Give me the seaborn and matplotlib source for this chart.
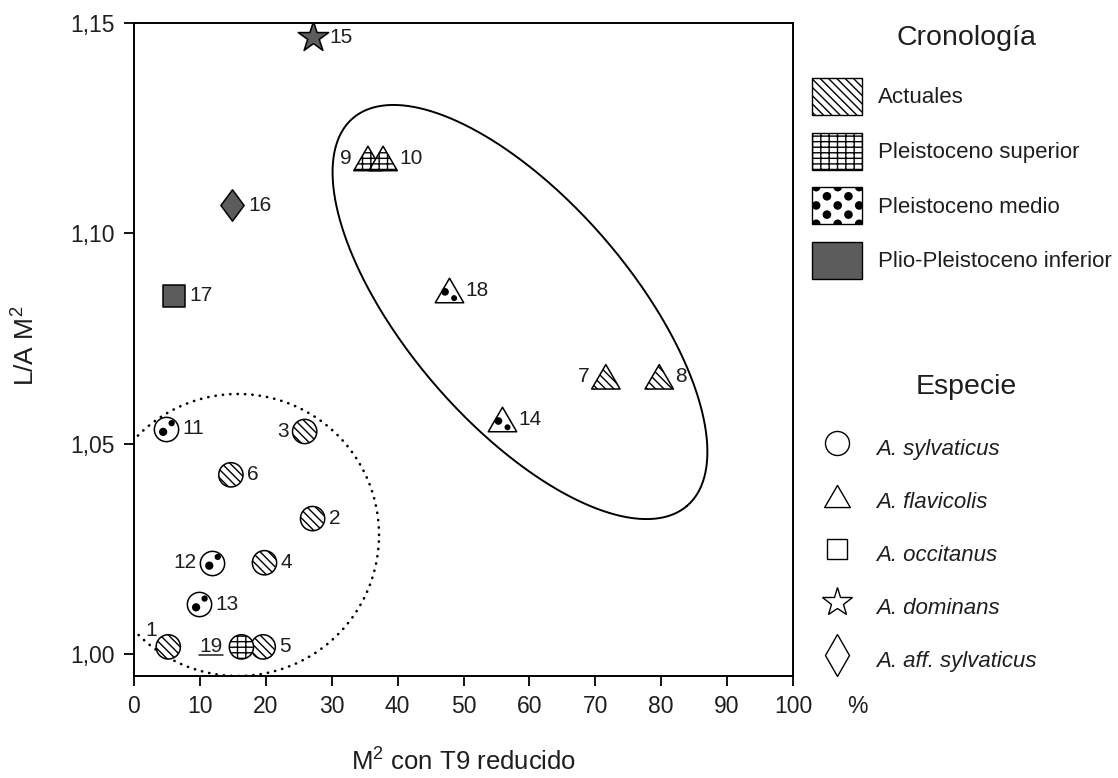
import numpy as np
import pandas as pd
import matplotlib
matplotlib.use("Agg")
import matplotlib.pyplot as plt
import seaborn as sns
from matplotlib.path import Path
from matplotlib.patches import Patch, Rectangle, Circle
from matplotlib.lines import Line2D
from matplotlib.legend_handler import HandlerBase
from matplotlib.transforms import ScaledTranslation

# ===============================
# Data
# ===============================
sample_id = list(range(1, 20))
m2_t9 = [5.2, 27.1, 25.9, 19.8, 19.6, 14.7, 71.6, 79.7, 35.5, 37.8,
         4.9, 11.9, 9.9, 55.9, 27.2, 14.9, 6.0, 47.8, 16.3]
la_m2 = [1.0017, 1.0322, 1.0529, 1.0217, 1.0017, 1.0426, 1.0659, 1.0659, 1.1178, 1.1178,
         1.0535, 1.0217, 1.0118, 1.0558, 1.1466, 1.1067, 1.0852, 1.0865, 1.0017]
species = ["syl", "syl", "syl", "syl", "syl", "syl", "fla", "fla", "fla", "fla",
           "syl", "syl", "syl", "fla", "dom", "aff", "occ", "fla", "syl"]
period = ["act", "act", "act", "act", "act", "act", "act", "act", "sup", "sup",
          "med", "med", "med", "med", "inf", "inf", "inf", "med", "sup"]

period_keys = ["act", "sup", "med", "inf"]
period_names = ["Actuales", "Pleistoceno superior", "Pleistoceno medio",
                "Plio-Pleistoceno inferior"]
species_keys = ["syl", "fla", "occ", "dom", "aff"]
species_names = ["A. sylvaticus", "A. flavicolis", "A. occitanus", "A. dominans",
                 "A. aff. sylvaticus"]

x_ticks = [0, 10, 20, 30, 40, 50, 60, 70, 80, 90, 100]
y_ticks = [1.00, 1.05, 1.10, 1.15]
y_tick_labels = ["1,00", "1,05", "1,10", "1,15"]

# group outlines (hand drawn in the original)
ell_center = (58.57, 1.0813)
ell_u = (25.37, -0.04605)
ell_v = (-12.85, -0.01738)
circ_center = (15.78, 1.0283)
circ_radius = (21.4, 0.03352)

# ===============================
# Styling
# ===============================
sns.set_theme(style="ticks")
plt.rcParams["font.family"] = ["Liberation Sans", "DejaVu Sans"]
plt.rcParams["mathtext.fontset"] = "custom"
plt.rcParams["mathtext.rm"] = "Liberation Sans"
plt.rcParams["hatch.linewidth"] = 1.0
plt.rcParams["hatch.color"] = "black"

DARK = "#5c5c5c"
INK = "#1e1e1e"


def closed(verts):
    verts = list(verts) + [verts[0]]
    codes = [Path.MOVETO] + [Path.LINETO] * (len(verts) - 2) + [Path.CLOSEPOLY]
    return Path(verts, codes)


TRI = closed([(-0.5, -0.43), (0.5, -0.43), (0.0, 0.43)])
DIAM = closed([(0.0, 0.5), (0.37, 0.0), (0.0, -0.5), (-0.37, 0.0)])

marker_of = {"syl": "o", "fla": TRI, "occ": "s", "dom": "*", "aff": DIAM}
size_of = {"syl": 306, "fla": 420, "occ": 272, "dom": 530, "aff": 510}
fill_of = {"act": "white", "sup": "white", "med": "white", "inf": DARK}
hatch_of = {"act": "\\\\\\\\", "sup": "---||", "med": None, "inf": None}
# black spots of the "Pleistoceno medio" pattern: (dx, dy, diameter) as marker fractions
spots_of = {"syl": [(-0.13, -0.12, 0.34), (0.22, 0.24, 0.26)],
            "fla": [(-0.14, -0.06, 0.27), (0.18, -0.28, 0.21)]}

df = pd.DataFrame({"id": sample_id, "x": m2_t9, "y": la_m2,
                   "sp": species, "per": period})

fig = plt.figure(figsize=(11.18, 7.78), dpi=100)
ax = fig.add_axes([134 / 1118, 1 - 676 / 778, 659 / 1118, 653 / 778])

# outlines
t = np.linspace(0, 2 * np.pi, 500)
ax.plot(ell_center[0] + ell_u[0] * np.cos(t) + ell_v[0] * np.sin(t),
        ell_center[1] + ell_u[1] * np.cos(t) + ell_v[1] * np.sin(t),
        color="black", lw=1.4, zorder=2)
ax.plot(circ_center[0] + circ_radius[0] * np.cos(t),
        circ_center[1] + circ_radius[1] * np.sin(t),
        color="black", lw=1.9, ls=(0, (0.1, 2.7)), dash_capstyle="round", zorder=2)

# points, one call per species / period so each gets its own pattern
for (sp, per), g in df.groupby(["sp", "per"], sort=False):
    sns.scatterplot(data=g, x="x", y="y", marker=marker_of[sp], s=size_of[sp],
                    color=fill_of[per], edgecolor="black", linewidth=1.1,
                    ax=ax, legend=False, zorder=3)
    if hatch_of[per]:
        ax.collections[-1].set_hatch(hatch_of[per])
    if per == "med":
        m = np.sqrt(size_of[sp])
        for dx, dy, d in spots_of[sp]:
            sns.scatterplot(data=g, x="x", y="y", marker="o", s=(d * m) ** 2,
                            color="black", edgecolor="none", linewidth=0,
                            ax=ax, legend=False, zorder=4)
            shift = ScaledTranslation(dx * m / 72, dy * m / 72, fig.dpi_scale_trans)
            ax.collections[-1].set_offset_transform(ax.transData + shift)

# number labels
label_side = {1: "ul", 3: "l", 7: "l", 9: "l", 12: "l", 19: "l"}
offsets = {"r": ((11.5, 0), "left"), "l": ((-11.5, 0), "right"),
           "ul": ((-12.5, 12), "center")}
txt19 = None
for i, x, y in zip(sample_id, m2_t9, la_m2):
    side = label_side.get(i, "r")
    off, ha = offsets[side]
    if i == 19:
        off = (-13.5, 0)
    tx = ax.annotate(str(i), (x, y), xytext=off, textcoords="offset points",
                     ha=ha, va="center", fontsize=15, color=INK, zorder=5)
    if i == 19:
        txt19 = tx

# axes
ax.set_xlim(0, 100)
ax.set_ylim(0.99478, 1.15)
ax.set_xticks(x_ticks)
ax.set_xticklabels([str(v) for v in x_ticks])
ax.set_yticks(y_ticks)
ax.set_yticklabels(y_tick_labels)
ax.tick_params(axis="both", direction="out", length=7.5, width=1.3, pad=6.5,
               labelsize=16.5, color="black", labelcolor=INK)
for s in ax.spines.values():
    s.set_linewidth(1.4)
    s.set_color("black")
ax.set_xlabel(r"M$^{2}$ con T9 reducido", fontsize=18.5, color=INK)
ax.set_ylabel(r"L/A M$^{2}$", fontsize=19, color=INK)
ax.xaxis.set_label_coords(0.5, -0.108)
ax.yaxis.set_label_coords(-0.145, 0.505)
ax.annotate("%", xy=(1.097, 0), xycoords="axes fraction", xytext=(0, -14),
            textcoords="offset points", ha="center", va="top", fontsize=16.5,
            color=INK, annotation_clip=False)


# ===============================
# Legends
# ===============================
class DotBoxHandler(HandlerBase):
    def create_artists(self, legend, orig_handle, xdescent, ydescent,
                       width, height, fontsize, trans):
        x0, y0 = -xdescent, -ydescent
        back = Rectangle((x0, y0), width, height, facecolor="white",
                         edgecolor="none", transform=trans)
        arts = [back]
        step_x, step_y, r = 15.5, 6.6, 3.1
        for j, yy in enumerate(np.arange(y0 + height, y0 - step_y, -step_y)):
            shift = 0.0 if j % 2 == 0 else step_x / 2
            for xx in np.arange(x0 + 3.0 + shift, x0 + width + step_x, step_x):
                c = Circle((xx, yy), r, facecolor="black", edgecolor="none",
                           transform=trans)
                c.set_clip_path(back)
                arts.append(c)
        edge = Rectangle((x0, y0), width, height, facecolor="none",
                         edgecolor="black", lw=1.0, transform=trans)
        arts.append(edge)
        return arts


period_handles = []
for key in period_keys:
    period_handles.append(Patch(facecolor=fill_of[key], edgecolor="black",
                                lw=1.0, hatch=hatch_of[key]))
dot_handle = period_handles[2]

species_markers = {"syl": ("o", 17.3), "fla": (TRI, 18.5), "occ": ("s", 15.0),
                   "dom": ("*", 22.0), "aff": ("d", 21.0)}
species_handles = [Line2D([], [], ls="none", marker=species_markers[k][0],
                          markersize=species_markers[k][1], mfc="white",
                          mec="black", mew=1.0) for k in species_keys]

leg_kw = dict(loc="upper left", bbox_transform=fig.transFigure, frameon=False,
              borderpad=0, borderaxespad=0, handlelength=2.25, handleheight=2.185)
fig.legend(period_handles, period_names, bbox_to_anchor=(812 / 1118, 1 - 78 / 778),
           prop=dict(size=16), labelspacing=0.79, handletextpad=0.72,
           handler_map={dot_handle: DotBoxHandler()}, labelcolor=INK, **leg_kw)
fig.legend(species_handles, species_names, bbox_to_anchor=(812 / 1118, 1 - 430 / 778),
           prop=dict(size=16, style="italic"), labelspacing=0.72, handletextpad=0.63,
           numpoints=1, labelcolor=INK, **leg_kw)

fig.text(966 / 1118, 1 - 45 / 778, "Cronología", ha="center", va="baseline",
         fontsize=20.5, color=INK)
fig.text(966 / 1118, 1 - 394 / 778, "Especie", ha="center", va="baseline",
         fontsize=20.5, color=INK)

# underline label 19
fig.canvas.draw()
bb = txt19.get_window_extent()
inv = ax.transData.inverted()
(ux0, uy), (ux1, _) = inv.transform([(bb.x0, bb.y0 + 1.5), (bb.x1, bb.y0 + 1.5)])
ax.plot([ux0, ux1], [uy, uy], color=INK, lw=1.1, zorder=5)

fig.savefig("out.png", dpi=100)
